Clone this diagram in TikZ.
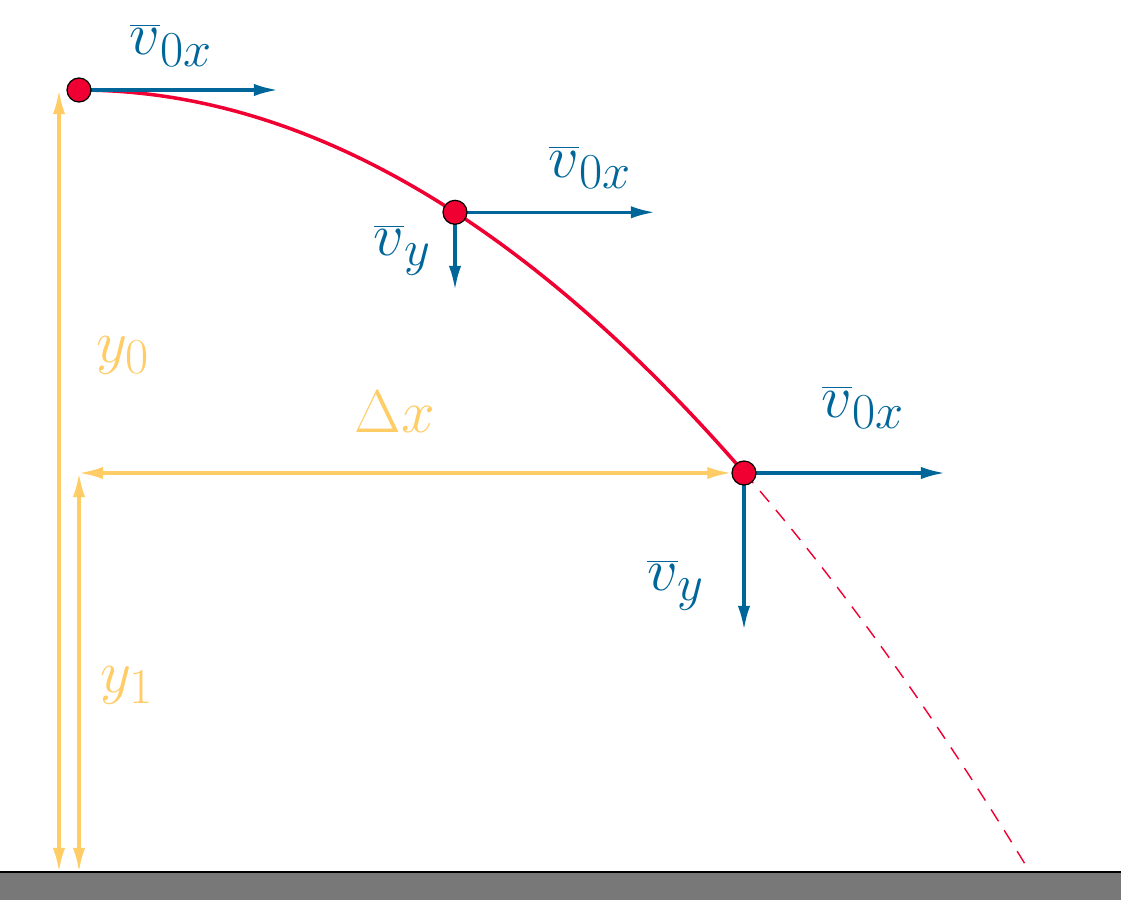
\documentclass[tikz,border=0pt]{standalone}
\usetikzlibrary{arrows.meta}
\definecolor{vblue}{RGB}{0,102,153}
\definecolor{bred}{RGB}{240,0,50}
\definecolor{dyel}{RGB}{255,204,102}
\definecolor{gnd}{RGB}{120,120,120}
\begin{document}
\begin{tikzpicture}[
  vec/.style={vblue, line width=1.8pt, -{Latex[length=13.7pt,width=7pt]}},
  dim/.style={dyel, line width=1.8pt, {Latex[length=13.7pt,width=7pt]}-{Latex[length=13.7pt,width=7pt]}},
  ball/.style={circle, draw=black, fill=bred, line width=0.7pt, minimum size=0.48cm, inner sep=0pt},
  vlab/.style={vblue, font=\Huge, scale=1.38, transform shape},
  ylab/.style={dyel, font=\Huge, scale=1.38, transform shape},
]
\useasboundingbox (0,0) rectangle (22.42,18);
% ground
\fill[gnd] (0,0) rectangle (22.42,0.56);
\draw[black, line width=0.7pt] (0,0.56) coordinate (gl) -- (22.42,0.56) coordinate (gr);
% trajectory
\draw[bred, line width=2pt] plot[domain=1.58:14.88, samples=120] (\x, {16.2-0.04325*(\x-1.58)^2});
\draw[bred, line width=0.8pt, dash pattern=on 8pt off 6pt] plot[domain=14.88:20.6, samples=60] (\x, {16.2-0.04325*(\x-1.58)^2});
% points
\coordinate (p1) at (1.58,16.2);
\coordinate (p2) at (9.1,13.754);
\coordinate (p3) at (14.88,8.54);
\coordinate (h1) at (5.56,16.2);
\coordinate (h2) at (13.1,13.754);
\coordinate (h3) at (18.9,8.54);
\coordinate (d2) at (9.1,12.2);
\coordinate (d3) at (14.88,5.4);
\coordinate (g0) at (1.18,0.56);
\coordinate (t0) at (1.18,16.2);
\coordinate (g1) at (1.58,0.56);
\coordinate (t1) at (1.58,8.54);
% velocity vectors
\draw[vec] (p1) -- (h1);
\draw[vec] (p2) -- (h2);
\draw[vec] (p2) -- (d2);
\draw[vec] (p3) -- (h3);
\draw[vec] (p3) -- (d3);
% dimension arrows
\draw[dim] (g0) -- (t0);
\draw[dim] (g1) -- (t1);
\node[ball] (b1) at (p1) {};
\node[ball] (b2) at (p2) {};
\node[ball] (b3) at (p3) {};
\draw[dim] (t1) -- (b3.west);
% labels
\node[vlab] (l1) at (3.42,17.1) {$\overline{v}_{0x}$};
\node[vlab] (l2) at (11.8,14.65) {$\overline{v}_{0x}$};
\node[vlab] (l3) at (17.26,9.85) {$\overline{v}_{0x}$};
\node[vlab] (l4) at (8.05,13.0) {$\overline{v}_{y}$};
\node[vlab] (l5) at (13.52,6.3) {$\overline{v}_{y}$};
\node[ylab] (l6) at (2.46,10.9) {$y_0$};
\node[ylab] (l7) at (2.54,4.3) {$y_1$};
\node[ylab] (l8) at (7.9,9.76) {$\Delta x$};
\end{tikzpicture}
\end{document}
